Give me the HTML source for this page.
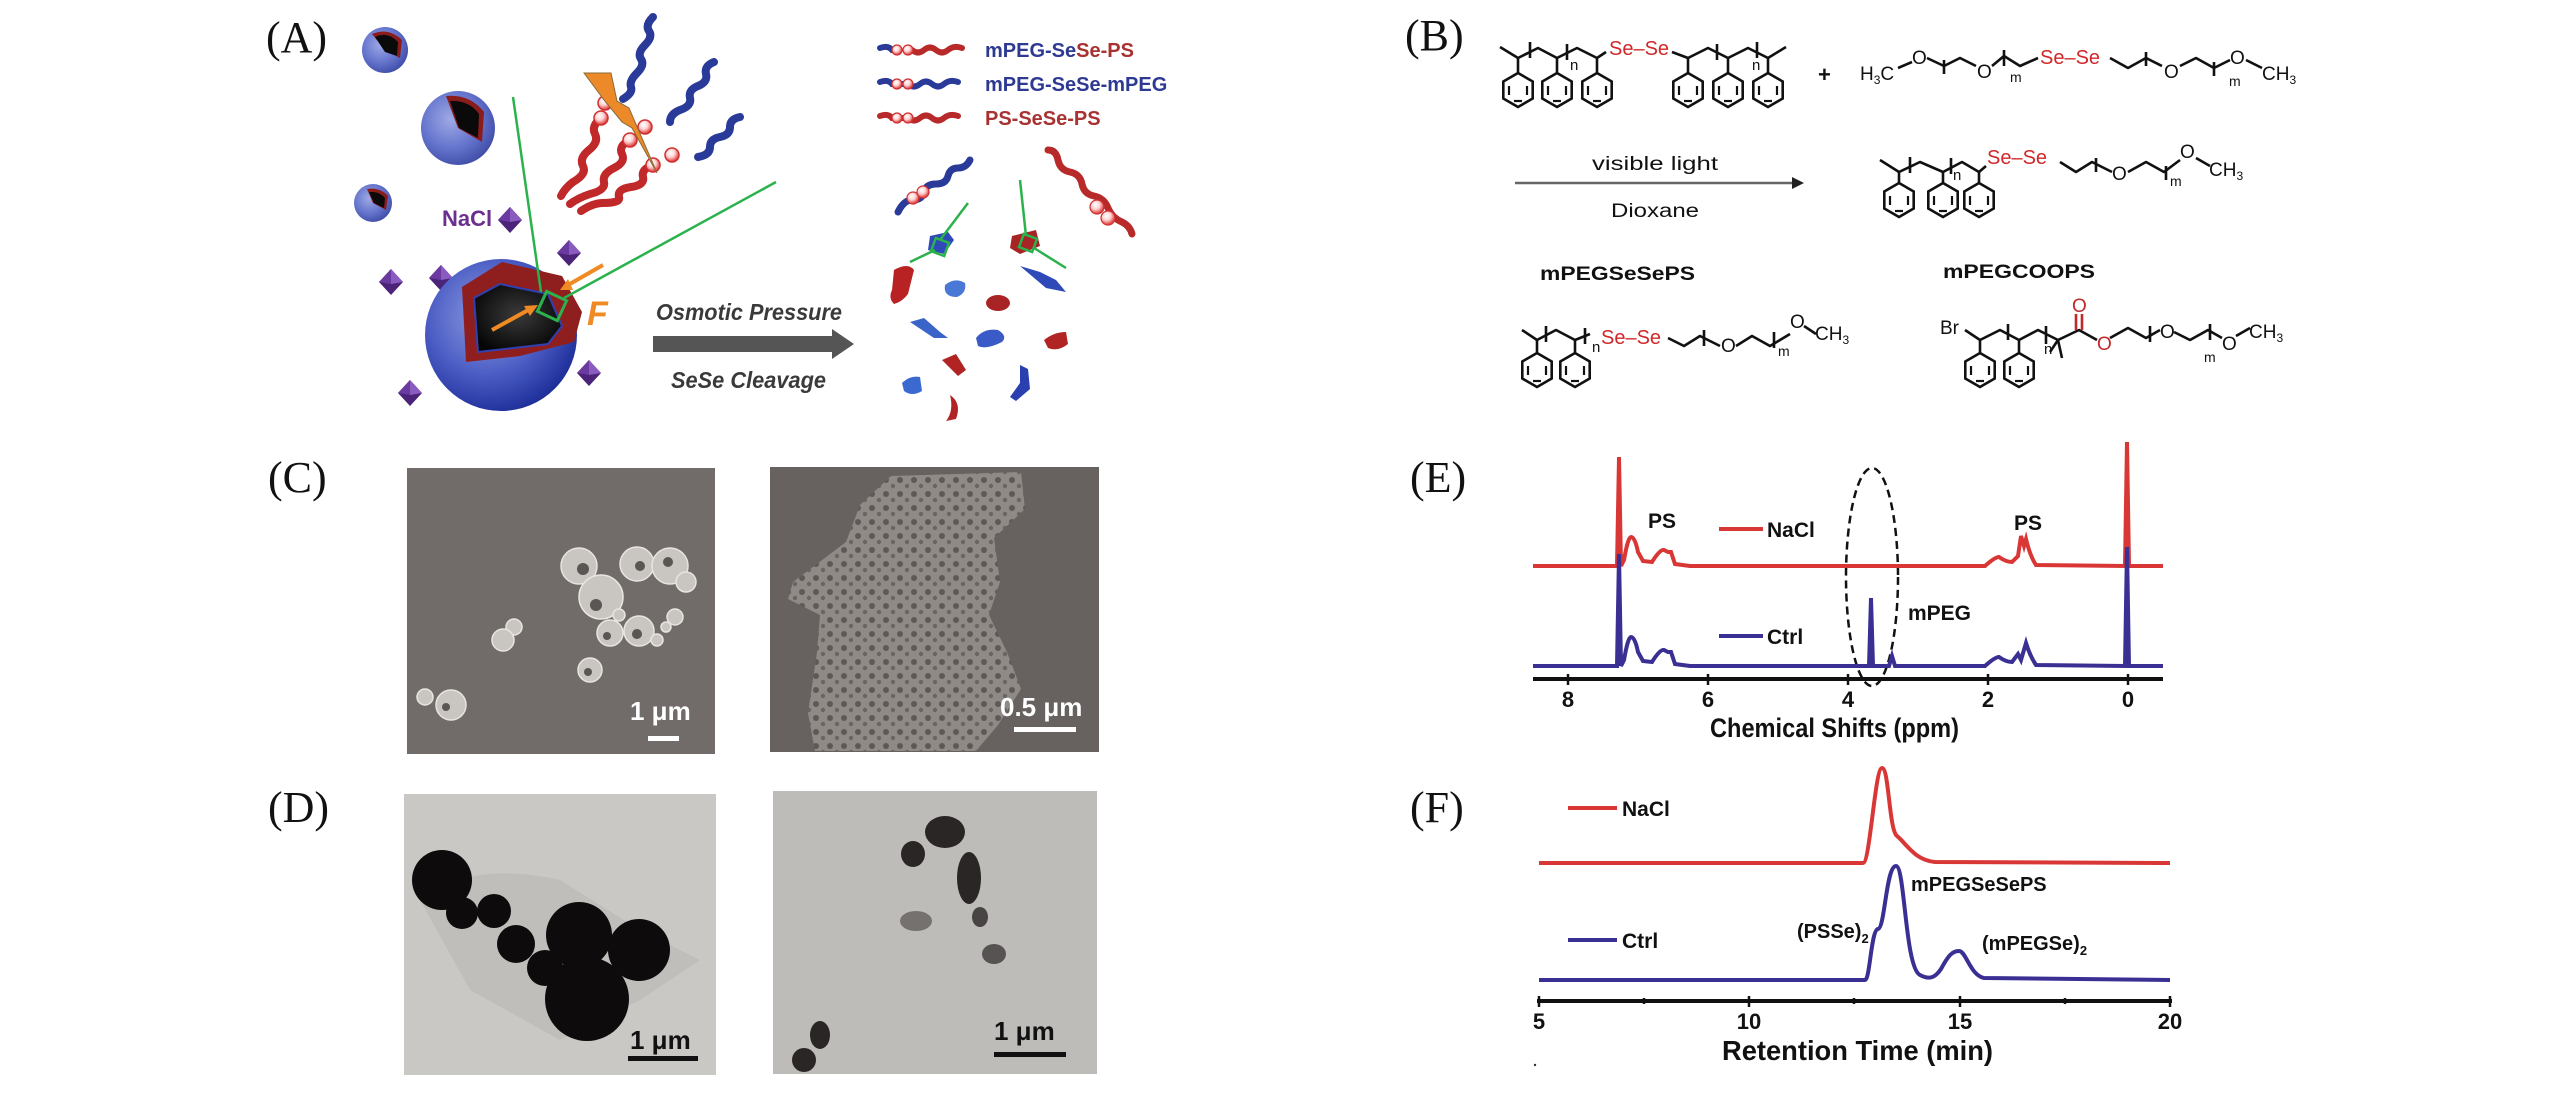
<!DOCTYPE html>
<html><head><meta charset="utf-8"><style>
html,body{margin:0;padding:0;background:#fff;}
svg{display:block;}
.lab{font-family:"Liberation Serif",serif;font-size:44px;fill:#111;}
.b{font-family:"Liberation Sans",sans-serif;font-weight:bold;}
.s{font-family:"Liberation Sans",sans-serif;}
</style></head><body>
<svg width="2567" height="1102" viewBox="0 0 2567 1102" xmlns="http://www.w3.org/2000/svg">
<defs>
<radialGradient id="sph" cx="40%" cy="38%" r="65%"><stop offset="0" stop-color="#8d9be0"/><stop offset="0.6" stop-color="#4a5cc4"/><stop offset="1" stop-color="#1f2f9a"/></radialGradient>
<radialGradient id="core" cx="50%" cy="45%" r="60%"><stop offset="0" stop-color="#3a3a3a"/><stop offset="1" stop-color="#050505"/></radialGradient>
<radialGradient id="bead" cx="40%" cy="35%" r="60%"><stop offset="0" stop-color="#fff"/><stop offset="0.5" stop-color="#ffd5d5"/><stop offset="1" stop-color="#e04848"/></radialGradient>
<g id="hex"><polygon points="0,-17 14.7,-8.5 14.7,8.5 0,17 -14.7,8.5 -14.7,-8.5" fill="none" stroke="#111" stroke-width="2.6"/><line x1="-9" y1="-4" x2="-9" y2="5" stroke="#111" stroke-width="2.2"/><line x1="9" y1="-4" x2="9" y2="5" stroke="#111" stroke-width="2.2"/><line x1="-4" y1="11" x2="4" y2="11" stroke="#111" stroke-width="2.2"/></g>
<g id="dia"><polygon points="0,-13 12,0 0,13 -12,0" fill="#4b2378"/><polygon points="0,-13 12,0 0,2" fill="#8a5cc0"/><polygon points="0,-13 -12,0 0,2" fill="#6a3aa0"/></g>
<pattern id="pores" width="14" height="14" patternUnits="userSpaceOnUse"><rect width="14" height="14" fill="#8f8a86"/><circle cx="4" cy="4" r="3" fill="#5e5957"/><circle cx="11" cy="10" r="2.2" fill="#6a6562"/></pattern>
</defs>

<!-- Panel labels -->
<text class="lab" x="266" y="52">(A)</text>
<text class="lab" x="1405" y="50">(B)</text>
<text class="lab" x="268" y="492">(C)</text>
<text class="lab" x="1410" y="492">(E)</text>
<text class="lab" x="268" y="822">(D)</text>
<text class="lab" x="1410" y="822">(F)</text>

<!-- ===== Panel A ===== -->
<g>
<circle cx="385" cy="50" r="23" fill="url(#sph)" opacity="0.85"/>
<path d="M385,50 L372,34 Q388,27 402,40 L400,58 Z" fill="#8b1c1c"/><path d="M385,52 L375,37 Q388,31 398,42 L397,56 Z" fill="#0a0a0a"/>
<circle cx="458" cy="128" r="37" fill="url(#sph)" opacity="0.85"/>
<path d="M458,128 L446,96 Q470,94 484,112 L482,142 Z" fill="#8b1c1c"/><path d="M459,128 L450,101 Q469,100 479,114 L478,138 Z" fill="#0a0a0a"/>
<circle cx="373" cy="203" r="19" fill="url(#sph)" opacity="0.85"/>
<path d="M373,203 L367,189 Q380,187 388,196 L386,210 Z" fill="#8b1c1c"/><path d="M374,203 L369,192 Q379,191 385,198 L384,208 Z" fill="#0a0a0a"/>

<text class="b" x="442" y="226" font-size="22" fill="#6a2f8f">NaCl</text>
<use href="#dia" x="510" y="220"/><use href="#dia" x="569" y="253"/><use href="#dia" x="391" y="282"/><use href="#dia" x="441" y="278"/><use href="#dia" x="589" y="373"/><use href="#dia" x="410" y="393"/><use href="#dia" x="519" y="390"/>

<circle cx="501" cy="335" r="76" fill="url(#sph)"/>
<polygon points="462,287 502,262 562,276 582,312 574,342 520,356 466,362" fill="#8f1f1f"/>
<polygon points="474,298 500,284 548,294 562,326 548,344 478,352" fill="url(#core)" stroke="#3040b0" stroke-width="2"/>
<rect x="541" y="295" width="22" height="22" fill="none" stroke="#2bb24c" stroke-width="3" transform="rotate(25 552 306)"/>
<line x1="541" y1="292" x2="513" y2="97" stroke="#2bb24c" stroke-width="2.5"/>
<line x1="564" y1="298" x2="776" y2="182" stroke="#2bb24c" stroke-width="2.5"/>
<line x1="492" y1="330" x2="530" y2="309" stroke="#f08a24" stroke-width="4"/><polygon points="538,305 524,306 530,316" fill="#f08a24"/>
<line x1="603" y1="265" x2="568" y2="285" stroke="#f08a24" stroke-width="4"/><polygon points="560,290 568,279 573,290" fill="#f08a24"/>
<text x="587" y="325" font-family="Liberation Sans,sans-serif" font-weight="bold" font-style="italic" font-size="34" fill="#f08a24">F</text>

<polygon points="653,336 832,336 832,329 854,344 832,359 832,352 653,352" fill="#555"/>
<text class="b" x="656" y="320" font-size="23" font-style="italic" fill="#3a3a3a" textLength="186" lengthAdjust="spacingAndGlyphs">Osmotic Pressure</text>
<text class="b" x="671" y="388" font-size="23" font-style="italic" fill="#3a3a3a" textLength="155" lengthAdjust="spacingAndGlyphs">SeSe Cleavage</text>

<!-- chain bundle -->
<g fill="none" stroke-linecap="round" stroke-width="8">
<path d="M653,17 q-8,8 -4,14 q4,6 -4,14 q-8,8 -4,14 q4,6 -4,14 q-8,8 -6,14 q2,6 -8,12" stroke="#2a3a98"/>
<path d="M714,62 q-10,4 -8,12 q2,8 -8,12 q-10,4 -8,12 q2,8 -10,12 q-10,4 -10,12" stroke="#2a3a98"/>
<path d="M740,117 q-10,2 -10,10 q0,8 -10,10 q-10,2 -10,10 q0,8 -12,10" stroke="#2a3a98"/>
<path d="M601,118 q-10,8 -6,16 q4,8 -6,16 q-10,8 -6,16 q4,8 -10,16 q-8,6 -12,14" stroke="#c0282a"/>
<path d="M630,140 q-12,6 -8,14 q4,8 -8,14 q-12,6 -10,14 q2,8 -14,12 q-12,4 -20,10" stroke="#c0282a"/>
<path d="M653,165 q-12,4 -10,12 q2,8 -12,10 q-14,2 -12,10 q2,6 -16,6 q-10,0 -22,8" stroke="#c0282a"/>
</g>
<g stroke="#d03030" stroke-width="1.5"><circle cx="601" cy="118" r="7" fill="url(#bead)"/><circle cx="605" cy="103" r="7" fill="url(#bead)"/><circle cx="630" cy="140" r="7" fill="url(#bead)"/><circle cx="645" cy="127" r="7" fill="url(#bead)"/><circle cx="653" cy="165" r="7" fill="url(#bead)"/><circle cx="672" cy="155" r="7" fill="url(#bead)"/></g>
<polygon points="584,73 611,73 617,101 629,108 657,173 632,128 622,122 604,100" fill="#ec8a2a" stroke="#8a6a3a" stroke-width="1"/>

<!-- legend chains -->
<g fill="none" stroke-width="6" stroke-linecap="round">
<path d="M912,50 q6,5 12,0 q6,-5 12,0 q6,5 12,0 q6,-5 14,-2" stroke="#b82a2a"/><path d="M880,48 q8,-3 12,2 l5,1" stroke="#2a3a98"/>
<path d="M880,82 q8,-3 12,2 l16,0 q6,5 12,0 q6,-5 12,0 q6,5 12,0 q6,-5 14,-2" stroke="#2a3a98"/>
<path d="M880,116 q8,-3 12,2 l16,0 q6,5 12,0 q6,-5 12,0 q6,5 12,0 q6,-5 14,-2" stroke="#b82a2a"/>
</g>
<g stroke="#d03030" stroke-width="1.2"><circle cx="897" cy="50" r="5" fill="url(#bead)"/><circle cx="908" cy="50" r="5" fill="url(#bead)"/><circle cx="897" cy="84" r="5" fill="url(#bead)"/><circle cx="908" cy="84" r="5" fill="url(#bead)"/><circle cx="897" cy="118" r="5" fill="url(#bead)"/><circle cx="908" cy="118" r="5" fill="url(#bead)"/></g>
<text class="b" x="985" y="57" font-size="20"><tspan fill="#2e3a92">mPEG-Se</tspan><tspan fill="#a83232">Se-PS</tspan></text>
<text class="b" x="985" y="91" font-size="20" fill="#2e3a92">mPEG-SeSe-mPEG</text>
<text class="b" x="985" y="125" font-size="20" fill="#a83232">PS-SeSe-PS</text>

<!-- cleaved chains -->
<g fill="none" stroke-width="7" stroke-linecap="round">
<path d="M970,160 q-4,8 -12,8 q-8,0 -10,8 q-2,8 -12,8 q-10,0 -12,8 q-2,8 -12,8 q-8,0 -14,12" stroke="#2a3a98"/>
<path d="M1048,150 q8,0 10,10 q2,10 12,12 q10,2 12,12 q2,10 12,12 q10,2 14,12 q4,10 14,14 q8,4 10,12" stroke="#b82a2a"/>
</g>
<g stroke="#d03030" stroke-width="1.2"><circle cx="913" cy="198" r="6" fill="url(#bead)"/><circle cx="923" cy="192" r="6" fill="url(#bead)"/><circle cx="1097" cy="207" r="7" fill="url(#bead)"/><circle cx="1108" cy="218" r="7" fill="url(#bead)"/></g>

<!-- fragments -->
<g>
<path d="M930,236 l18,-4 l6,8 l-10,14 l-16,-4 z" fill="#2f4ab8"/>
<path d="M1012,236 l24,-6 l4,16 l-20,8 l-10,-6 z" fill="#a82424"/>
<rect x="933" y="240" width="14" height="14" fill="none" stroke="#2bb24c" stroke-width="2.5" transform="rotate(20 940 247)"/>
<rect x="1021" y="236" width="14" height="14" fill="none" stroke="#2bb24c" stroke-width="2.5" transform="rotate(20 1028 243)"/>
<line x1="940" y1="240" x2="968" y2="203" stroke="#2bb24c" stroke-width="2.5"/><line x1="935" y1="250" x2="910" y2="262" stroke="#2bb24c" stroke-width="2.5"/>
<line x1="1026" y1="236" x2="1020" y2="180" stroke="#2bb24c" stroke-width="2.5"/><line x1="1034" y1="248" x2="1066" y2="268" stroke="#2bb24c" stroke-width="2.5"/>
<path d="M894,270 q14,-8 20,0 l-6,24 q-6,8 -14,10 q-6,-6 -2,-14 z" fill="#b82222"/>
<path d="M945,285 q10,-8 20,-2 q2,10 -8,14 q-14,0 -12,-12 z" fill="#4a78d6"/>
<path d="M1020,266 l20,6 l16,8 l10,12 l-20,-4 z" fill="#2f4ab8"/>
<ellipse cx="998" cy="303" rx="12" ry="8" fill="#a82424"/>
<path d="M910,322 l14,-4 l16,14 l8,6 l-14,0 z" fill="#3a64c8"/>
<path d="M976,338 q8,-10 22,-8 q10,6 4,12 q-16,8 -24,4 z" fill="#3a5ac8"/>
<path d="M1044,340 q10,-8 22,-8 l2,12 q-10,8 -20,4 z" fill="#b02424"/>
<path d="M942,360 l14,-6 l10,16 l-8,6 z" fill="#b02424"/>
<path d="M902,383 q8,-8 18,-6 l2,14 q-10,6 -18,0 z" fill="#3a6ad0"/>
<path d="M950,395 q12,8 6,24 l-10,2 q8,-10 4,-26 z" fill="#b02424"/>
<path d="M1020,365 l8,4 l2,20 l-14,12 l-6,-4 l10,-14 z" fill="#2a40b0"/>
</g>
</g>

<!-- ===== Panel B ===== -->
<g fill="none" stroke="#111" stroke-width="2.6" stroke-linejoin="round">
<polyline points="1500,47 1518,58 1538,48 1557,58 1577,48 1597,58 1606,52"/>
<polyline points="1672,52 1688,58 1708,48 1728,58 1748,48 1768,58 1786,47"/>
<line x1="1518" y1="58" x2="1518" y2="73"/><line x1="1557" y1="58" x2="1557" y2="73"/><line x1="1597" y1="58" x2="1597" y2="73"/>
<line x1="1688" y1="58" x2="1688" y2="73"/><line x1="1728" y1="58" x2="1728" y2="73"/><line x1="1768" y1="58" x2="1768" y2="73"/>
<line x1="1530" y1="42" x2="1530" y2="58"/><line x1="1567" y1="44" x2="1567" y2="60"/><line x1="1717" y1="44" x2="1717" y2="60"/><line x1="1757" y1="42" x2="1757" y2="58"/>
<polyline points="1898,68 1912,62"/><polyline points="1927,58 1944,66 1960,58 1976,66"/><line x1="1944" y1="60" x2="1944" y2="74"/>
<polyline points="1992,66 2004,56 2020,66 2038,58"/><line x1="2004" y1="50" x2="2004" y2="66"/>
<polyline points="2110,58 2128,68 2146,58 2162,66"/><line x1="2146" y1="52" x2="2146" y2="66"/>
<polyline points="2180,66 2196,58 2214,68 2230,60"/><line x1="2214" y1="62" x2="2214" y2="76"/><polyline points="2246,60 2262,68"/>
<line x1="1515" y1="183" x2="1792" y2="183" stroke="#666" stroke-width="2.5"/>
<polyline points="1880,160 1899,172 1920,162 1943,172 1962,162 1979,172 1986,166"/>
<line x1="1899" y1="172" x2="1899" y2="183"/><line x1="1943" y1="172" x2="1943" y2="183"/><line x1="1979" y1="172" x2="1979" y2="183"/>
<line x1="1910" y1="157" x2="1910" y2="173"/><line x1="1951" y1="158" x2="1951" y2="174"/>
<polyline points="2060,162 2076,172 2092,162 2112,172"/><line x1="2096" y1="158" x2="2096" y2="172"/>
<polyline points="2128,172 2146,162 2164,172 2180,160"/><line x1="2166" y1="166" x2="2166" y2="180"/><polyline points="2196,158 2210,166"/>
<polyline points="1522,330 1537,340 1556,330 1575,340 1590,334"/><line x1="1537" y1="340" x2="1537" y2="353"/><line x1="1575" y1="340" x2="1575" y2="353"/>
<line x1="1546" y1="326" x2="1546" y2="342"/><line x1="1585" y1="328" x2="1585" y2="344"/>
<polyline points="1668,338 1684,346 1700,336 1720,346"/><line x1="1704" y1="330" x2="1704" y2="346"/>
<polyline points="1736,346 1752,336 1770,346 1790,334"/><line x1="1774" y1="332" x2="1774" y2="348"/><polyline points="1804,326 1816,334"/>
<polyline points="1965,330 1980,340 2000,330 2019,340 2038,330 2058,340 2079,330 2097,340"/>
<line x1="1980" y1="340" x2="1980" y2="353"/><line x1="2019" y1="340" x2="2019" y2="353"/>
<line x1="2008" y1="324" x2="2008" y2="340"/><line x1="2046" y1="326" x2="2046" y2="344"/>
<line x1="2058" y1="340" x2="2062" y2="358"/><line x1="2058" y1="340" x2="2050" y2="352"/>
<line x1="2076" y1="314" x2="2076" y2="330" stroke="#c0282a"/><line x1="2082" y1="314" x2="2082" y2="330" stroke="#c0282a"/>
<polyline points="2110,338 2128,328 2146,338 2160,330"/><line x1="2150" y1="326" x2="2150" y2="342"/>
<polyline points="2174,332 2190,340 2208,330 2222,338"/><line x1="2210" y1="324" x2="2210" y2="340"/><polyline points="2236,336 2250,328"/>
</g>
<g>
<use href="#hex" x="1518" y="90"/><use href="#hex" x="1557" y="90"/><use href="#hex" x="1597" y="90"/>
<use href="#hex" x="1688" y="90"/><use href="#hex" x="1728" y="90"/><use href="#hex" x="1768" y="90"/>
<use href="#hex" x="1899" y="200"/><use href="#hex" x="1943" y="200"/><use href="#hex" x="1979" y="200"/>
<use href="#hex" x="1537" y="370"/><use href="#hex" x="1575" y="370"/>
<use href="#hex" x="1980" y="370"/><use href="#hex" x="2019" y="370"/>
</g>
<g class="s" font-size="19" fill="#111">
<text x="1609" y="55" fill="#d0282a" font-size="20">Se–Se</text>
<text x="1570" y="70" font-size="15">n</text><text x="1752" y="70" font-size="15">n</text>
<text x="1818" y="82" font-weight="bold" font-size="22">+</text>
<text x="1860" y="80">H<tspan font-size="12" dy="4">3</tspan><tspan dy="-4">C</tspan></text>
<text x="1912" y="64">O</text><text x="1977" y="78">O</text><text x="2010" y="82" font-size="14">m</text>
<text x="2040" y="64" fill="#d0282a" font-size="20">Se–Se</text>
<text x="2164" y="78">O</text><text x="2230" y="64">O</text><text x="2229" y="86" font-size="14">m</text>
<text x="2262" y="80">CH<tspan font-size="12" dy="4">3</tspan></text>
<text x="1592" y="170" textLength="126" lengthAdjust="spacingAndGlyphs">visible light</text>
<text x="1611" y="217" textLength="88" lengthAdjust="spacingAndGlyphs">Dioxane</text>
<text x="1987" y="164" fill="#d0282a" font-size="20">Se–Se</text>
<text x="1953" y="180" font-size="15">n</text>
<text x="2112" y="180">O</text><text x="2180" y="158">O</text><text x="2170" y="186" font-size="14">m</text>
<text x="2209" y="176">CH<tspan font-size="12" dy="4">3</tspan></text>
<text class="b" x="1540" y="280" font-size="19" textLength="155" lengthAdjust="spacingAndGlyphs">mPEGSeSePS</text>
<text class="b" x="1943" y="278" font-size="19" textLength="152" lengthAdjust="spacingAndGlyphs">mPEGCOOPS</text>
<text x="1601" y="344" fill="#d0282a" font-size="20">Se–Se</text>
<text x="1592" y="352" font-size="15">n</text>
<text x="1721" y="352">O</text><text x="1778" y="356" font-size="14">m</text><text x="1790" y="328">O</text>
<text x="1815" y="340">CH<tspan font-size="12" dy="4">3</tspan></text>
<text x="1940" y="334">Br</text><text x="2044" y="354" font-size="15">n</text>
<text x="2072" y="312" fill="#c0282a">O</text><text x="2097" y="350" fill="#c0282a">O</text>
<text x="2160" y="338">O</text><text x="2222" y="350">O</text><text x="2204" y="362" font-size="14">m</text>
<text x="2249" y="338">CH<tspan font-size="12" dy="4">3</tspan></text>
</g>
<polygon points="1792,177 1804,183 1792,189" fill="#222"/>

<!-- ===== Panel C ===== -->
<rect x="407" y="468" width="308" height="286" fill="#716c6a"/>
<g fill="#c9c5c1" stroke="#e8e4e0" stroke-width="1.5">
<circle cx="579" cy="566" r="18"/><circle cx="637" cy="564" r="17"/><circle cx="670" cy="566" r="18"/><circle cx="686" cy="582" r="10"/>
<circle cx="601" cy="597" r="22"/><circle cx="619" cy="615" r="6"/><circle cx="610" cy="633" r="13"/><circle cx="639" cy="631" r="15"/>
<circle cx="675" cy="617" r="8"/><circle cx="666" cy="627" r="5"/><circle cx="657" cy="640" r="6"/><circle cx="514" cy="627" r="8"/>
<circle cx="503" cy="640" r="11"/><circle cx="590" cy="670" r="12"/><circle cx="451" cy="705" r="15"/><circle cx="425" cy="697" r="8"/>
</g>
<g fill="#5a5654"><circle cx="583" cy="569" r="6"/><circle cx="640" cy="566" r="5"/><circle cx="668" cy="562" r="5"/><circle cx="596" cy="605" r="6"/><circle cx="607" cy="636" r="4"/><circle cx="637" cy="634" r="5"/><circle cx="588" cy="672" r="4"/><circle cx="446" cy="707" r="4"/></g>
<text class="b" x="630" y="720" font-size="26" fill="#fff">1 μm</text>
<rect x="648" y="736" width="31" height="5" fill="#fff"/>

<rect x="770" y="467" width="329" height="285" fill="#67625f"/>
<polygon points="860,505 891,476 1021,472 1025,509 994,538 1000,582 989,615 1007,652 1021,689 998,725 976,751 815,751 808,713 817,652 820,615 788,599 793,582 846,542" fill="url(#pores)"/>
<text class="b" x="1000" y="716" font-size="26" fill="#fff">0.5 μm</text>
<rect x="1014" y="727" width="62" height="5" fill="#fff"/>

<!-- ===== Panel D ===== -->
<rect x="404" y="794" width="312" height="281" fill="#cac8c5"/>
<path d="M420,900 Q470,860 560,880 L640,930 L700,960 L640,1000 L560,1040 L470,990 Z" fill="#b9b7b4" opacity="0.6"/>
<g fill="#0d0b0b">
<circle cx="442" cy="880" r="30"/><circle cx="462" cy="913" r="16"/><circle cx="494" cy="911" r="17"/><circle cx="516" cy="944" r="19"/>
<circle cx="545" cy="968" r="18"/><circle cx="579" cy="935" r="33"/><circle cx="639" cy="950" r="31"/><circle cx="587" cy="999" r="42"/>
</g>
<text class="b" x="630" y="1049" font-size="26" fill="#111">1 μm</text>
<rect x="628" y="1056" width="70" height="5" fill="#111"/>

<rect x="773" y="791" width="324" height="283" fill="#bebcb9"/>
<g fill="#2a2626">
<ellipse cx="945" cy="832" rx="20" ry="16"/><ellipse cx="913" cy="854" rx="12" ry="13"/><ellipse cx="969" cy="878" rx="12" ry="26"/>
<ellipse cx="980" cy="917" rx="8" ry="10" opacity="0.8"/><ellipse cx="994" cy="954" rx="12" ry="10" opacity="0.7"/>
<ellipse cx="916" cy="921" rx="16" ry="10" opacity="0.5"/><ellipse cx="820" cy="1035" rx="10" ry="14"/><ellipse cx="804" cy="1060" rx="12" ry="12"/>
</g>
<text class="b" x="994" y="1040" font-size="26" fill="#111">1 μm</text>
<rect x="994" y="1052" width="72" height="5" fill="#111"/>

<!-- ===== Panel E ===== -->
<ellipse cx="1872" cy="577" rx="26" ry="109" fill="none" stroke="#111" stroke-width="2.5" stroke-dasharray="8,5"/>
<path d="M1533,566 L1617,566 L1619,457 L1621,566 L1624,560 Q1628,537 1631,537 Q1635,537 1638,552 L1643,561 L1652,562 Q1660,549 1664,550 L1668,552 L1671,552 L1675,564 L1690,566 L1985,566 Q1995,557 1999,557 Q2006,562 2012,562 L2018,556 L2021,536 L2024,546 L2026,539 Q2030,556 2036,565 L2125,566 L2127,442 L2129,566 L2163,566" fill="none" stroke="#d93636" stroke-width="4"/>
<path d="M1533,666 L1617,666 L1619,554 L1621,666 L1624,660 Q1628,637 1631,637 Q1635,637 1638,652 L1643,661 L1652,662 Q1660,649 1664,650 L1668,652 L1671,652 L1675,664 L1690,666 L1869,666 L1871,598 L1873,666 L1889,666 L1892,656 L1895,666 L1985,666 Q1995,657 1999,657 Q2006,662 2012,662 L2018,654 L2021,660 L2026,643 Q2030,656 2036,665 L2125,666 L2127,547 L2129,666 L2163,666" fill="none" stroke="#3a2f92" stroke-width="4"/>
<line x1="1533" y1="679" x2="2163" y2="679" stroke="#111" stroke-width="4"/>
<g stroke="#111" stroke-width="2.5"><line x1="1568" y1="674" x2="1568" y2="685"/><line x1="1708" y1="674" x2="1708" y2="685"/><line x1="1848" y1="674" x2="1848" y2="685"/><line x1="1988" y1="674" x2="1988" y2="685"/><line x1="2128" y1="674" x2="2128" y2="685"/></g>
<g class="b" font-size="22" fill="#111" text-anchor="middle"><text x="1568" y="707">8</text><text x="1708" y="707">6</text><text x="1848" y="707">4</text><text x="1988" y="707">2</text><text x="2128" y="707">0</text></g>
<text class="b" x="1710" y="737" font-size="27" fill="#111" textLength="249" lengthAdjust="spacingAndGlyphs">Chemical Shifts (ppm)</text>
<text class="b" x="1648" y="528" font-size="21" fill="#111">PS</text>
<text class="b" x="2014" y="530" font-size="21" fill="#111">PS</text>
<line x1="1719" y1="529" x2="1763" y2="529" stroke="#d93636" stroke-width="4"/><text class="b" x="1767" y="537" font-size="21" fill="#111">NaCl</text>
<line x1="1719" y1="636" x2="1763" y2="636" stroke="#3a2f92" stroke-width="4"/><text class="b" x="1767" y="644" font-size="21" fill="#111">Ctrl</text>
<text class="b" x="1908" y="620" font-size="21" fill="#111">mPEG</text>

<!-- ===== Panel F ===== -->
<path d="M1539,863 L1863,863 C1870,863 1875,768 1882,768 C1889,768 1889,830 1897,836 C1906,843 1914,860 1935,862 L2170,863" fill="none" stroke="#d93636" stroke-width="4"/>
<path d="M1539,980 L1865,980 C1870,980 1871,930 1878,929 C1885,928 1886,866 1896,866 C1905,866 1905,968 1920,975 C1929,980 1935,978 1941,969 C1948,956 1952,951 1959,951 C1966,951 1970,975 1984,978 L2170,980" fill="none" stroke="#3a2f92" stroke-width="4"/>
<line x1="1537" y1="1001" x2="2172" y2="1001" stroke="#111" stroke-width="4"/>
<g stroke="#111" stroke-width="2.5"><line x1="1539" y1="996" x2="1539" y2="1007"/><line x1="1644" y1="998" x2="1644" y2="1004"/><line x1="1749" y1="996" x2="1749" y2="1007"/><line x1="1854" y1="998" x2="1854" y2="1004"/><line x1="1960" y1="996" x2="1960" y2="1007"/><line x1="2065" y1="998" x2="2065" y2="1004"/><line x1="2170" y1="996" x2="2170" y2="1007"/></g>
<g class="b" font-size="22" fill="#111" text-anchor="middle"><text x="1539" y="1029">5</text><text x="1749" y="1029">10</text><text x="1960" y="1029">15</text><text x="2170" y="1029">20</text></g>
<text class="b" x="1722" y="1060" font-size="28" fill="#111" textLength="271" lengthAdjust="spacingAndGlyphs">Retention Time (min)</text>
<line x1="1568" y1="808" x2="1617" y2="808" stroke="#d93636" stroke-width="4"/><text class="b" x="1622" y="816" font-size="21" fill="#111">NaCl</text>
<line x1="1568" y1="940" x2="1617" y2="940" stroke="#3a2f92" stroke-width="4"/><text class="b" x="1622" y="948" font-size="21" fill="#111">Ctrl</text>
<text class="b" x="1911" y="891" font-size="20" fill="#111">mPEGSeSePS</text>
<text class="b" x="1797" y="938" font-size="20" fill="#111">(PSSe)<tspan font-size="13" dy="5">2</tspan></text>
<text class="b" x="1982" y="950" font-size="20" fill="#111">(mPEGSe)<tspan font-size="13" dy="5">2</tspan></text>
<circle cx="1535" cy="1065" r="1.2" fill="#333"/>
</svg>
</body></html>
